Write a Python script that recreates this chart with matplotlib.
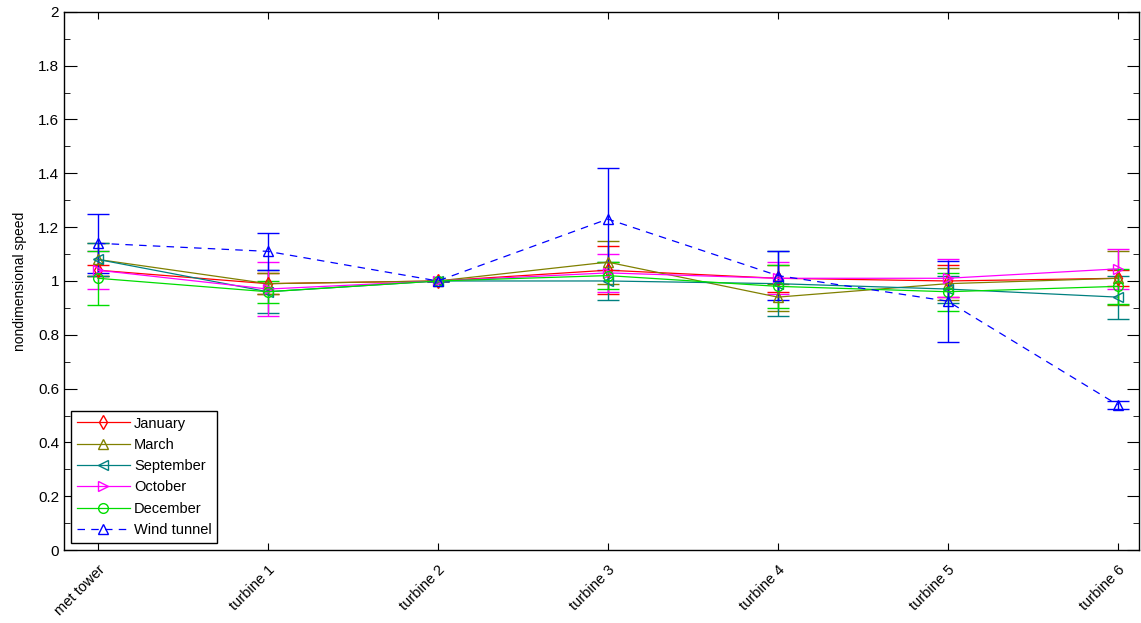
import matplotlib
matplotlib.use("Agg")
import matplotlib.pyplot as plt
from matplotlib.lines import Line2D
from matplotlib.ticker import MultipleLocator, FuncFormatter

plt.rcParams['font.family'] = ['Liberation Sans', 'DejaVu Sans']

labels = ['met tower', 'turbine 1', 'turbine 2', 'turbine 3', 'turbine 4', 'turbine 5', 'turbine 6']

jan = [1.04, 0.99, 1.00, 1.04, 1.01, 1.00, 1.01]
jan_err = [0.02, 0.04, 0.0, 0.09, 0.05, 0.06, 0.03]
mar = [1.08, 0.99, 1.00, 1.07, 0.94, 0.99, 1.01]
mar_err = [0.06, 0.04, 0.0, 0.08, 0.05, 0.06, 0.10]
sep = [1.08, 0.96, 1.00, 1.00, 0.99, 0.97, 0.94]
sep_err = [0.06, 0.08, 0.0, 0.07, 0.12, 0.05, 0.08]
octo = [1.04, 0.97, 1.00, 1.03, 1.01, 1.01, 1.045]
octo_err = [0.07, 0.10, 0.0, 0.07, 0.06, 0.07, 0.075]
dec = [1.01, 0.96, 1.00, 1.02, 0.98, 0.96, 0.98]
dec_err = [0.10, 0.04, 0.0, 0.05, 0.08, 0.07, 0.065]
wind = [1.14, 1.11, 1.00, 1.23, 1.02, 0.925, 0.54]
wind_err = [0.11, 0.07, 0.0, 0.19, 0.09, 0.15, 0.015]

series = [
    ('January', jan, jan_err, '#ff0000', 'd', '-'),
    ('March', mar, mar_err, '#808000', '^', '-'),
    ('September', sep, sep_err, '#008080', '<', '-'),
    ('October', octo, octo_err, '#ff00ff', '>', '-'),
    ('December', dec, dec_err, '#00dd00', 'o', '-'),
    ('Wind tunnel', wind, wind_err, '#0000ff', '^', (0, (6, 5))),
]

fig = plt.figure(figsize=(11.41, 6.23), dpi=100)
ax = fig.add_axes([0.056, 0.117, 0.942, 0.864])

x = list(range(len(labels)))
handles = []
for name, vals, err, col, mk, ls in series:
    eb = ax.errorbar(x, vals, yerr=err, color=col, marker=mk, markersize=7,
                     markerfacecolor='none', markeredgecolor=col, markeredgewidth=1.0,
                     linewidth=0.9, linestyle=ls, capsize=8, capthick=1.0,
                     elinewidth=1.0)
    eb[2][0].set_linestyle('-')
    handles.append(Line2D([], [], color=col, marker=mk, markersize=7,
                          markerfacecolor='none', markeredgewidth=1.0,
                          linewidth=0.9, linestyle=ls, label=name))

ax.set_xlim(-0.2, 6.124)
ax.set_ylim(0, 2)
ax.set_xticks(x)
ax.set_xticklabels(labels, rotation=45, ha='right', rotation_mode='anchor', fontsize=10.5)
ax.yaxis.set_major_locator(MultipleLocator(0.2))
ax.yaxis.set_minor_locator(MultipleLocator(0.1))
ax.yaxis.set_major_formatter(FuncFormatter(lambda v, p: '%g' % round(v, 2)))
ax.tick_params(axis='y', which='major', direction='in', length=9, right=True, labelsize=11)
ax.tick_params(axis='y', which='minor', direction='in', length=4, right=True)
ax.tick_params(axis='x', direction='in', length=5, top=True, pad=9)
ax.set_ylabel('nondimensional speed', fontsize=10, labelpad=8)
for s in ax.spines.values():
    s.set_linewidth(1.0)

leg = ax.legend(handles=handles, loc='lower left', fontsize=10.5, fancybox=False,
                edgecolor='black', framealpha=1, handlelength=3.6, handletextpad=0.3,
                borderpad=0.4, labelspacing=0.5, bbox_to_anchor=(0.0, 0.0))
leg.get_frame().set_linewidth(1.0)

fig.savefig('out.png', dpi=100)
